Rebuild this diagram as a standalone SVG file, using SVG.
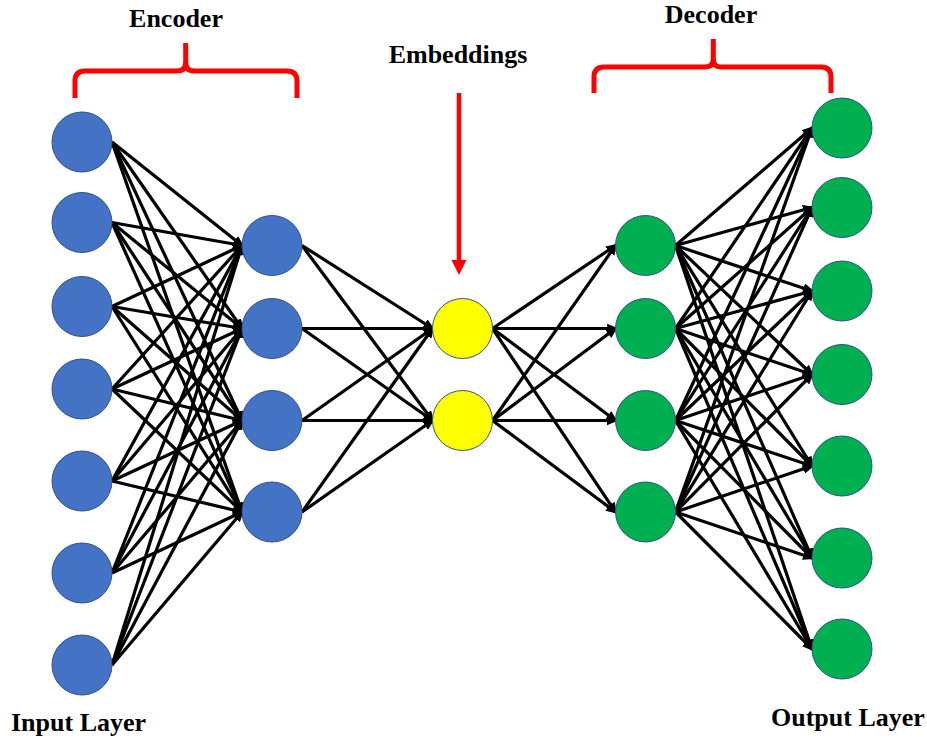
<svg xmlns="http://www.w3.org/2000/svg" width="927" height="740" viewBox="0 0 927 740">
  <style>
    .title { font-family: "Liberation Serif", "Times New Roman", serif; font-weight: bold; font-size: 26px; fill: #000; }
    .edge { stroke: #000; stroke-width: 3.2; fill: none; marker-end: url(#arrow); }
    .node { stroke: #2F528F; stroke-width: 1; }
    .blue { fill: #4472C4; }
    .green { fill: #00B050; }
    .yellow { fill: #FFFF00; }
    .brace { stroke: #FF0000; stroke-width: 5; fill: none; stroke-linecap: butt; }
  </style>
  <defs>
    <marker id="arrow" markerUnits="userSpaceOnUse" viewBox="0 0 12 10" markerWidth="12" markerHeight="10" refX="9" refY="5" orient="auto">
      <path d="M0,0 L12,5 L0,10 z" fill="#000"/>
    </marker>
  </defs>

  <rect width="927" height="740" fill="#fff"/>

  <!-- Labels -->
  <text class="title" x="176" y="27" text-anchor="middle">Encoder</text>
  <text class="title" x="711" y="23" text-anchor="middle">Decoder</text>
  <text class="title" x="458" y="63" text-anchor="middle">Embeddings</text>
  <text class="title" x="11" y="731">Input Layer</text>
  <text class="title" x="771" y="726">Output Layer</text>

  <!-- Braces and pointer -->
  <g id="encoder-brace">
    <path class="brace" d="M75,98 V81 Q75,71 85,71 H177 Q185.7,71 185.7,62 V43 M185.7,62 Q185.7,71 194,71 H287 Q297,71 297,81 V98"/>
  </g>
  <g id="decoder-brace">
    <path class="brace" d="M594,93 V77 Q594,67 604,67 H705 Q713.3,67 713.3,59 V39 M713.3,59 Q713.3,67 721,67 H821 Q831,67 831,77 V93"/>
  </g>
  <g id="embeddings-pointer">
    <line x1="459" y1="93" x2="459" y2="262" stroke="#FF0000" stroke-width="4.5"/>
    <polygon points="451.5,260 466.5,260 459,275" fill="#FF0000"/>
  </g>

  <!-- Connectors -->
  <g id="connectors">
    <!-- input -> encoder hidden -->
    <line class="edge" x1="112" y1="142" x2="242" y2="245.5"/>
    <line class="edge" x1="112" y1="142" x2="242" y2="328.5"/>
    <line class="edge" x1="112" y1="142" x2="242" y2="420.5"/>
    <line class="edge" x1="112" y1="142" x2="242" y2="512"/>
    <line class="edge" x1="112" y1="222.5" x2="242" y2="245.5"/>
    <line class="edge" x1="112" y1="222.5" x2="242" y2="328.5"/>
    <line class="edge" x1="112" y1="222.5" x2="242" y2="420.5"/>
    <line class="edge" x1="112" y1="222.5" x2="242" y2="512"/>
    <line class="edge" x1="112" y1="306.5" x2="242" y2="245.5"/>
    <line class="edge" x1="112" y1="306.5" x2="242" y2="328.5"/>
    <line class="edge" x1="112" y1="306.5" x2="242" y2="420.5"/>
    <line class="edge" x1="112" y1="306.5" x2="242" y2="512"/>
    <line class="edge" x1="112" y1="389" x2="242" y2="245.5"/>
    <line class="edge" x1="112" y1="389" x2="242" y2="328.5"/>
    <line class="edge" x1="112" y1="389" x2="242" y2="420.5"/>
    <line class="edge" x1="112" y1="389" x2="242" y2="512"/>
    <line class="edge" x1="112" y1="481" x2="242" y2="245.5"/>
    <line class="edge" x1="112" y1="481" x2="242" y2="328.5"/>
    <line class="edge" x1="112" y1="481" x2="242" y2="420.5"/>
    <line class="edge" x1="112" y1="481" x2="242" y2="512"/>
    <line class="edge" x1="112" y1="573" x2="242" y2="245.5"/>
    <line class="edge" x1="112" y1="573" x2="242" y2="328.5"/>
    <line class="edge" x1="112" y1="573" x2="242" y2="420.5"/>
    <line class="edge" x1="112" y1="573" x2="242" y2="512"/>
    <line class="edge" x1="112" y1="665" x2="242" y2="245.5"/>
    <line class="edge" x1="112" y1="665" x2="242" y2="328.5"/>
    <line class="edge" x1="112" y1="665" x2="242" y2="420.5"/>
    <line class="edge" x1="112" y1="665" x2="242" y2="512"/>
    <!-- encoder hidden -> embeddings -->
    <line class="edge" x1="302" y1="245.5" x2="432.5" y2="328.5"/>
    <line class="edge" x1="302" y1="245.5" x2="432.5" y2="420.5"/>
    <line class="edge" x1="302" y1="328.5" x2="432.5" y2="328.5"/>
    <line class="edge" x1="302" y1="328.5" x2="432.5" y2="420.5"/>
    <line class="edge" x1="302" y1="420.5" x2="432.5" y2="328.5"/>
    <line class="edge" x1="302" y1="420.5" x2="432.5" y2="420.5"/>
    <line class="edge" x1="302" y1="512" x2="432.5" y2="328.5"/>
    <line class="edge" x1="302" y1="512" x2="432.5" y2="420.5"/>
    <!-- embeddings -> decoder hidden -->
    <line class="edge" x1="492.5" y1="328.5" x2="615.5" y2="245.5"/>
    <line class="edge" x1="492.5" y1="328.5" x2="615.5" y2="328.5"/>
    <line class="edge" x1="492.5" y1="328.5" x2="615.5" y2="420.5"/>
    <line class="edge" x1="492.5" y1="328.5" x2="615.5" y2="512"/>
    <line class="edge" x1="492.5" y1="420.5" x2="615.5" y2="245.5"/>
    <line class="edge" x1="492.5" y1="420.5" x2="615.5" y2="328.5"/>
    <line class="edge" x1="492.5" y1="420.5" x2="615.5" y2="420.5"/>
    <line class="edge" x1="492.5" y1="420.5" x2="615.5" y2="512"/>
    <!-- decoder hidden -> output -->
    <line class="edge" x1="675.5" y1="245.5" x2="812" y2="128"/>
    <line class="edge" x1="675.5" y1="245.5" x2="812" y2="207.5"/>
    <line class="edge" x1="675.5" y1="245.5" x2="812" y2="291"/>
    <line class="edge" x1="675.5" y1="245.5" x2="812" y2="374.5"/>
    <line class="edge" x1="675.5" y1="245.5" x2="812" y2="466"/>
    <line class="edge" x1="675.5" y1="245.5" x2="812" y2="558"/>
    <line class="edge" x1="675.5" y1="245.5" x2="812" y2="649"/>
    <line class="edge" x1="675.5" y1="328.5" x2="812" y2="128"/>
    <line class="edge" x1="675.5" y1="328.5" x2="812" y2="207.5"/>
    <line class="edge" x1="675.5" y1="328.5" x2="812" y2="291"/>
    <line class="edge" x1="675.5" y1="328.5" x2="812" y2="374.5"/>
    <line class="edge" x1="675.5" y1="328.5" x2="812" y2="466"/>
    <line class="edge" x1="675.5" y1="328.5" x2="812" y2="558"/>
    <line class="edge" x1="675.5" y1="328.5" x2="812" y2="649"/>
    <line class="edge" x1="675.5" y1="420.5" x2="812" y2="128"/>
    <line class="edge" x1="675.5" y1="420.5" x2="812" y2="207.5"/>
    <line class="edge" x1="675.5" y1="420.5" x2="812" y2="291"/>
    <line class="edge" x1="675.5" y1="420.5" x2="812" y2="374.5"/>
    <line class="edge" x1="675.5" y1="420.5" x2="812" y2="466"/>
    <line class="edge" x1="675.5" y1="420.5" x2="812" y2="558"/>
    <line class="edge" x1="675.5" y1="420.5" x2="812" y2="649"/>
    <line class="edge" x1="675.5" y1="512" x2="812" y2="128"/>
    <line class="edge" x1="675.5" y1="512" x2="812" y2="207.5"/>
    <line class="edge" x1="675.5" y1="512" x2="812" y2="291"/>
    <line class="edge" x1="675.5" y1="512" x2="812" y2="374.5"/>
    <line class="edge" x1="675.5" y1="512" x2="812" y2="466"/>
    <line class="edge" x1="675.5" y1="512" x2="812" y2="558"/>
    <line class="edge" x1="675.5" y1="512" x2="812" y2="649"/>
  </g>

  <!-- Input layer -->
  <g id="in1"><circle class="node blue" cx="82" cy="142" r="30"/></g>
  <g id="in2"><circle class="node blue" cx="82" cy="222.5" r="30"/></g>
  <g id="in3"><circle class="node blue" cx="82" cy="306.5" r="30"/></g>
  <g id="in4"><circle class="node blue" cx="82" cy="389" r="30"/></g>
  <g id="in5"><circle class="node blue" cx="82" cy="481" r="30"/></g>
  <g id="in6"><circle class="node blue" cx="82" cy="573" r="30"/></g>
  <g id="in7"><circle class="node blue" cx="82" cy="665" r="30"/></g>

  <!-- Encoder hidden layer -->
  <g id="enc1"><circle class="node blue" cx="272" cy="245.5" r="30"/></g>
  <g id="enc2"><circle class="node blue" cx="272" cy="328.5" r="30"/></g>
  <g id="enc3"><circle class="node blue" cx="272" cy="420.5" r="30"/></g>
  <g id="enc4"><circle class="node blue" cx="272" cy="512" r="30"/></g>

  <!-- Embedding layer -->
  <g id="emb1"><circle class="node yellow" cx="462.5" cy="328.5" r="30"/></g>
  <g id="emb2"><circle class="node yellow" cx="462.5" cy="420.5" r="30"/></g>

  <!-- Decoder hidden layer -->
  <g id="dec1"><circle class="node green" cx="645.5" cy="245.5" r="30"/></g>
  <g id="dec2"><circle class="node green" cx="645.5" cy="328.5" r="30"/></g>
  <g id="dec3"><circle class="node green" cx="645.5" cy="420.5" r="30"/></g>
  <g id="dec4"><circle class="node green" cx="645.5" cy="512" r="30"/></g>

  <!-- Output layer -->
  <g id="out1"><circle class="node green" cx="842" cy="128" r="30"/></g>
  <g id="out2"><circle class="node green" cx="842" cy="207.5" r="30"/></g>
  <g id="out3"><circle class="node green" cx="842" cy="291" r="30"/></g>
  <g id="out4"><circle class="node green" cx="842" cy="374.5" r="30"/></g>
  <g id="out5"><circle class="node green" cx="842" cy="466" r="30"/></g>
  <g id="out6"><circle class="node green" cx="842" cy="558" r="30"/></g>
  <g id="out7"><circle class="node green" cx="842" cy="649" r="30"/></g>
</svg>
